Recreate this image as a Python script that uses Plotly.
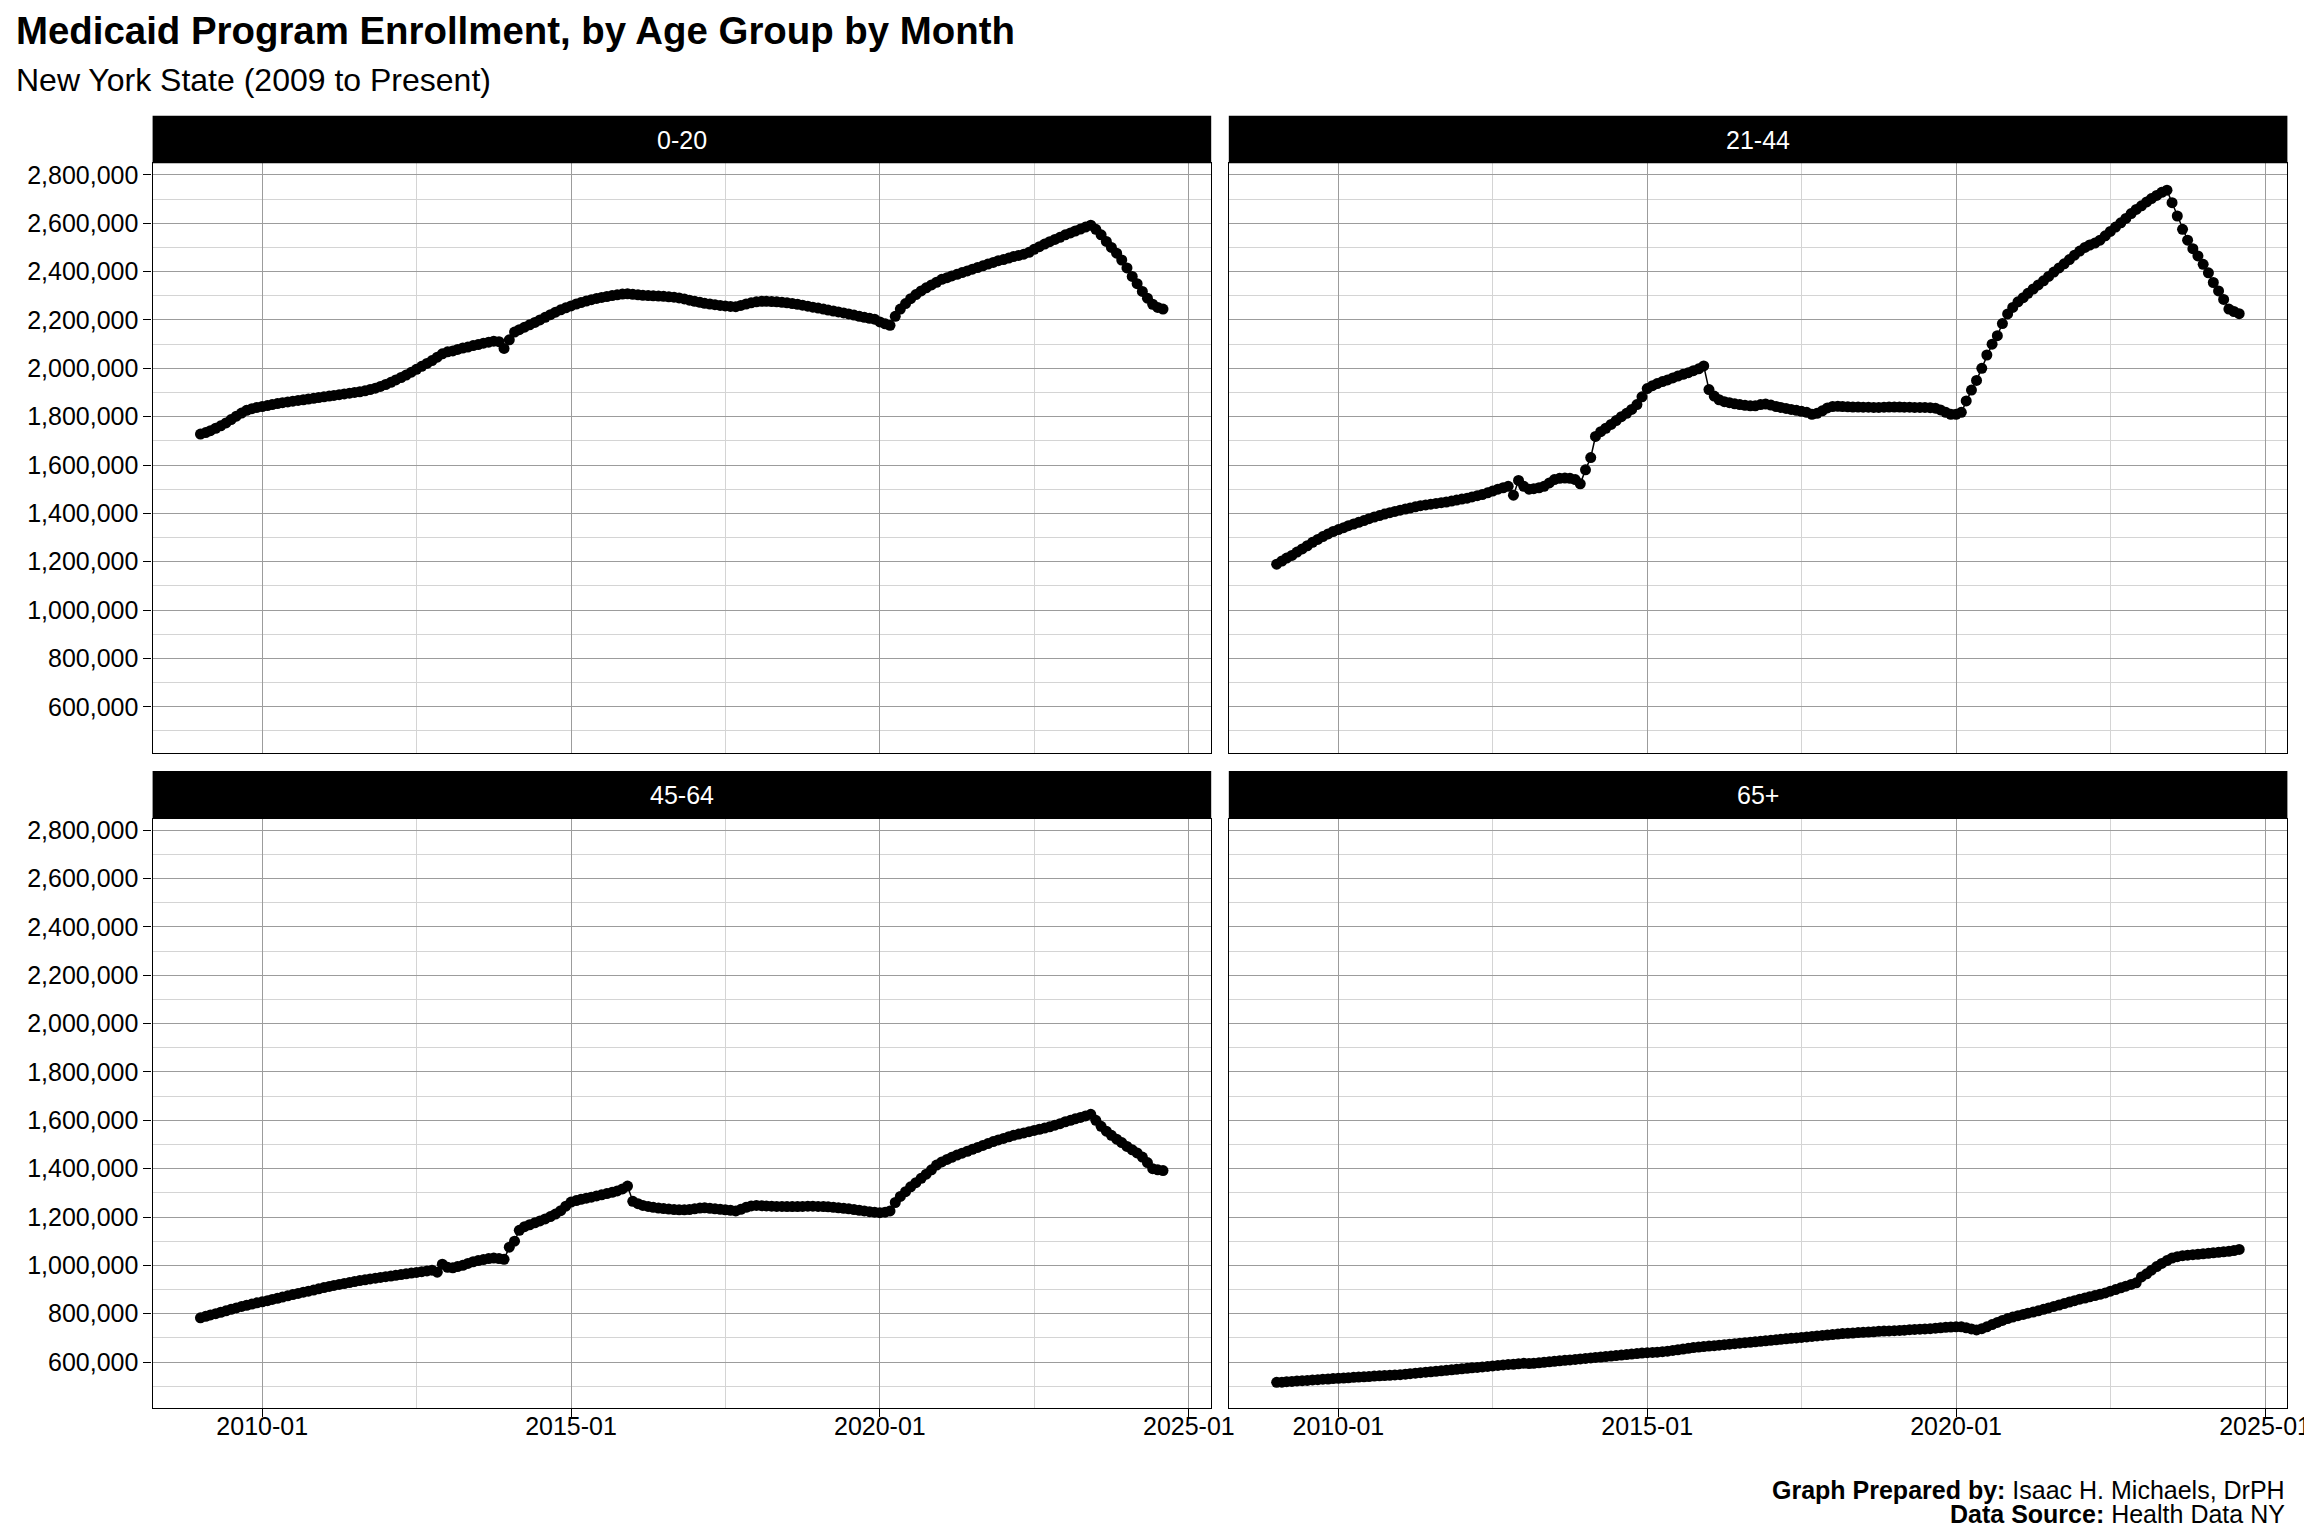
import plotly.graph_objects as go
import pandas as pd

# ---------------- text ----------------
TITLE = "Medicaid Program Enrollment, by Age Group by Month"
SUBTITLE = "New York State (2009 to Present)"
CAPTION_LINES = [("Graph Prepared by:", "Isaac H. Michaels, DrPH"),
                 ("Data Source:", "Health Data NY")]

# ---------------- data (monthly enrollment, thousands) ----------------
AGE_GROUPS = ["0-20", "21-44", "45-64", "65+"]
FIRST_MONTH = "2009-01-01"

ages_0_20 = [
    1728, 1734, 1742, 1752, 1762, 1774, 1788, 1802, 1815, 1826, 1833, 1838,
    1842, 1846, 1850, 1854, 1858, 1861, 1864, 1867, 1870, 1873, 1876, 1879,
    1882, 1885, 1888, 1891, 1894, 1897, 1900, 1903, 1907, 1912, 1918, 1925,
    1933, 1942, 1952, 1962, 1972, 1984, 1996, 2008, 2020, 2032, 2046, 2060,
    2068, 2072, 2078, 2084, 2088, 2094, 2098, 2104, 2108, 2112, 2110, 2082,
    2118, 2150, 2160, 2170, 2180, 2190, 2200, 2211, 2222, 2232, 2242, 2250,
    2258, 2266, 2272, 2278, 2284, 2289, 2293, 2297, 2301, 2304, 2307, 2308,
    2306, 2304, 2302, 2301, 2300, 2299, 2298, 2296, 2294, 2291, 2287, 2282,
    2277, 2273, 2269, 2266, 2263, 2260, 2258, 2256, 2255, 2260, 2266, 2271,
    2275, 2277, 2277, 2276, 2275, 2273, 2271, 2268, 2265, 2261, 2257, 2253,
    2249, 2245, 2241, 2237, 2233, 2229, 2225, 2220, 2215, 2211, 2207, 2203,
    2192, 2184, 2178, 2215, 2245, 2268, 2288, 2305, 2320, 2333, 2345, 2356,
    2368, 2375, 2382, 2389, 2396, 2403, 2410, 2417, 2424, 2431, 2438, 2445,
    2450, 2456, 2462, 2467, 2472, 2480, 2492, 2503, 2514, 2524, 2533, 2542,
    2552, 2560, 2568, 2576, 2584, 2592, 2575, 2552, 2525, 2500, 2476, 2448,
    2415, 2380, 2350, 2318, 2290, 2265, 2252, 2245,
]

ages_21_44 = [
    1190, 1203, 1215, 1226, 1240, 1253, 1266, 1280, 1292, 1304, 1315, 1325,
    1333, 1341, 1349, 1356, 1363, 1370, 1378, 1385, 1391, 1397, 1403, 1408,
    1413, 1418, 1422, 1427, 1432, 1435, 1438, 1441, 1444, 1447, 1451, 1455,
    1459, 1463, 1468, 1473, 1478, 1485, 1492, 1500, 1506, 1512, 1475, 1536,
    1512, 1500, 1502, 1506, 1512, 1526, 1540, 1545, 1546, 1545, 1540, 1522,
    1580, 1631, 1718, 1738, 1752, 1768, 1784, 1800, 1814, 1830, 1850, 1882,
    1916, 1928, 1937, 1945, 1952, 1960, 1968, 1975, 1982, 1990, 1998, 2010,
    1912, 1885, 1870, 1862, 1858, 1853, 1850, 1847, 1845, 1845, 1850, 1852,
    1848, 1842, 1838, 1834, 1830, 1826, 1822, 1818, 1810, 1814, 1824, 1836,
    1842, 1843, 1842, 1841, 1840, 1840, 1839, 1839, 1838, 1838, 1839, 1840,
    1840, 1840, 1839, 1839, 1838, 1838, 1838, 1837, 1835, 1828, 1818, 1810,
    1810, 1818, 1865, 1910, 1950, 2000, 2055, 2100, 2135, 2185, 2225, 2252,
    2275, 2292, 2310, 2328, 2345, 2362, 2380, 2398, 2415, 2432, 2450, 2468,
    2485, 2500, 2510, 2518, 2530, 2548, 2566, 2584, 2602, 2620, 2640, 2657,
    2672, 2688, 2702, 2715, 2728, 2737, 2685, 2630, 2575, 2530, 2495, 2465,
    2430, 2395, 2355, 2320, 2285, 2245, 2235, 2226,
]

ages_45_64 = [
    783, 789, 795, 800, 806, 812, 818, 824, 830, 835, 840, 845,
    849, 854, 859, 864, 869, 874, 879, 884, 889, 893, 898, 903,
    908, 913, 917, 921, 925, 929, 933, 937, 940, 944, 947, 950,
    953, 956, 959, 962, 965, 968, 971, 974, 977, 980, 972, 1005,
    992, 990, 995, 1000, 1008, 1015, 1020, 1024, 1028, 1030, 1028, 1025,
    1075, 1100, 1145, 1160, 1168, 1176, 1184, 1192, 1202, 1212, 1226, 1245,
    1262, 1268, 1273, 1278, 1282, 1287, 1292, 1297, 1302, 1308, 1316, 1328,
    1265, 1255, 1248, 1244, 1240, 1237, 1235, 1233, 1231, 1230, 1230, 1231,
    1234, 1237, 1238, 1236, 1234, 1232, 1230, 1228, 1225, 1232, 1240, 1246,
    1248, 1247, 1246, 1245, 1244, 1244, 1243, 1243, 1243, 1244, 1245, 1245,
    1244, 1243, 1242, 1240, 1238, 1236, 1234, 1231, 1228, 1225, 1222, 1220,
    1218, 1220, 1225, 1260, 1285, 1305, 1325, 1342, 1360, 1377, 1395, 1415,
    1428, 1438, 1447, 1456, 1464, 1472, 1480, 1488, 1496, 1504, 1512, 1519,
    1525, 1532, 1538, 1543, 1548, 1553, 1558, 1563, 1568, 1573, 1580, 1586,
    1594, 1600, 1606, 1612, 1618, 1625, 1600, 1575, 1555, 1538, 1522, 1508,
    1492, 1478, 1465, 1448, 1425, 1400, 1395, 1392,
]

ages_65_plus = [
    516, 517, 519, 520, 522, 523, 524, 526, 527, 529, 530, 532,
    533, 534, 535, 537, 538, 539, 540, 542, 543, 544, 545, 547,
    548, 550, 552, 554, 556, 558, 560, 562, 564, 566, 568, 570,
    572, 574, 576, 578, 580, 582, 584, 586, 588, 590, 591, 593,
    595, 594, 595, 597, 599, 601, 603, 605, 607, 609, 611, 613,
    615, 617, 619, 621, 623, 625, 627, 629, 631, 633, 635, 637,
    639, 640, 641, 643, 645, 648, 651, 654, 657, 660, 662, 664,
    666, 668, 670, 672, 674, 676, 678, 680, 682, 684, 686, 688,
    690, 692, 694, 696, 698, 700, 702, 704, 706, 708, 710, 712,
    714, 716, 718, 719, 720, 722, 723, 724, 725, 727, 728, 729,
    730, 731, 732, 734, 735, 736, 737, 738, 740, 742, 744, 745,
    746, 746, 742, 737, 733, 738, 746, 755, 764, 772, 780, 786,
    792, 797, 802, 807, 812, 818, 824, 830, 836, 842, 848, 854,
    860, 865, 870, 875, 880, 886, 893, 900, 907, 914, 921, 928,
    952, 965, 980, 995, 1008, 1020, 1030, 1036, 1040, 1042, 1044, 1046,
    1048, 1050, 1052, 1054, 1056, 1058, 1061, 1066,
]

SERIES = [ages_0_20, ages_21_44, ages_45_64, ages_65_plus]

X_TICK_VALUES = ["2010-01-01", "2015-01-01", "2020-01-01", "2025-01-01"]
X_TICK_LABELS = ["2010-01", "2015-01", "2020-01", "2025-01"]
X_MINOR_VALUES = ["2012-07-02", "2017-07-02", "2022-07-02"]
Y_TICK_VALUES = [600000, 800000, 1000000, 1200000, 1400000, 1600000,
                 1800000, 2000000, 2200000, 2400000, 2600000, 2800000]
Y_MINOR_VALUES = [500000, 700000, 900000, 1100000, 1300000, 1500000,
                  1700000, 1900000, 2100000, 2300000, 2500000, 2700000]

# ---------------- geometry (pixels) ----------------
W, H = 2304, 1536
X_RANGE = ["2008-03-24", "2025-05-13"]
Y_RANGE = [410000, 2848000]
PANEL_X = [(152.6, 1211.2), (1228.8, 2287.4)]
PANEL_Y = [(163.3, 752.7), (818.6, 1408.0)]   # top, bottom
STRIP_H = 47.6
FONT = "Liberation Sans, Arial, Helvetica, sans-serif"
MAJOR_GRID = "#9c9c9c"
MINOR_GRID = "#d4d4d4"


def px(xp):
    return xp / W


def py(yp):
    return 1 - yp / H


months = pd.date_range(FIRST_MONTH, periods=len(ages_0_20), freq="MS")

fig = go.Figure()
layout = {}
shapes = []
annotations = []

for k, (grp, vals) in enumerate(zip(AGE_GROUPS, SERIES)):
    row, col = divmod(k, 2)
    sfx = "" if k == 0 else str(k + 1)
    x0, x1 = PANEL_X[col]
    top, bot = PANEL_Y[row]

    fig.add_trace(go.Scatter(
        x=months, y=[v * 1000 for v in vals],
        mode="lines+markers",
        line=dict(color="black", width=1.5),
        marker=dict(size=11, color="black", line=dict(width=0)),
        xaxis="x" + sfx, yaxis="y" + sfx, showlegend=False,
        hovertemplate="%{x|%Y-%m}: %{y:,}<extra>" + grp + "</extra>",
    ))

    layout["xaxis" + sfx] = dict(
        domain=[px(x0), px(x1)], anchor="y" + sfx, type="date",
        range=X_RANGE, tickmode="array", tickvals=X_TICK_VALUES,
        ticktext=X_TICK_LABELS, showticklabels=(row == 1),
        ticks="outside" if row == 1 else "", ticklen=8, tickwidth=1.4,
        tickcolor="black", ticklabeloverflow="allow", ticklabelstandoff=-12,
        automargin=False,
        tickfont=dict(family=FONT, size=25, color="black"),
        showgrid=True, gridcolor=MAJOR_GRID, gridwidth=1,
        minor=dict(tickmode="array", tickvals=X_MINOR_VALUES, showgrid=True,
                   gridcolor=MINOR_GRID, gridwidth=1, ticks=""),
        showline=True, linecolor="black", linewidth=1.4, mirror=True,
        zeroline=False, fixedrange=True,
    )
    layout["yaxis" + sfx] = dict(
        domain=[py(bot), py(top)], anchor="x" + sfx,
        range=Y_RANGE, tickmode="array", tickvals=Y_TICK_VALUES,
        tickformat=",d", showticklabels=(col == 0),
        ticks="outside" if col == 0 else "", ticklen=8, tickwidth=1.4,
        tickcolor="black", automargin=False,
        tickfont=dict(family=FONT, size=25, color="black"),
        showgrid=True, gridcolor=MAJOR_GRID, gridwidth=1,
        minor=dict(tickmode="array", tickvals=Y_MINOR_VALUES, showgrid=True,
                   gridcolor=MINOR_GRID, gridwidth=1, ticks=""),
        showline=True, linecolor="black", linewidth=1.4, mirror=True,
        zeroline=False, fixedrange=True,
    )

    # facet strip
    shapes.append(dict(type="rect", xref="paper", yref="paper",
                       x0=px(x0), x1=px(x1), y0=py(top), y1=py(top - STRIP_H),
                       fillcolor="black", line=dict(width=0), layer="above"))
    annotations.append(dict(text=grp, xref="paper", yref="paper",
                            x=px((x0 + x1) / 2), y=py(top - STRIP_H / 2),
                            xanchor="center", yanchor="middle", showarrow=False,
                            font=dict(family=FONT, size=25, color="white")))

annotations.append(dict(text="<b>" + TITLE + "</b>", xref="paper", yref="paper",
                        x=px(14), y=py(31), xanchor="left", yanchor="middle",
                        showarrow=False,
                        font=dict(family=FONT, size=38.4, color="black")))
annotations.append(dict(text=SUBTITLE, xref="paper", yref="paper",
                        x=px(14), y=py(80), xanchor="left", yanchor="middle",
                        showarrow=False,
                        font=dict(family=FONT, size=32, color="black")))
for i, (label, value) in enumerate(CAPTION_LINES):
    annotations.append(dict(text="<b>" + label + "</b> " + value,
                            xref="paper", yref="paper",
                            x=px(2287.4), y=py(1490 + 24 * i),
                            xanchor="right", yanchor="middle", showarrow=False,
                            font=dict(family=FONT, size=25, color="black")))

fig.update_layout(
    width=W, height=H, autosize=False,
    margin=dict(l=0, r=0, t=0, b=0, pad=0, autoexpand=False),
    paper_bgcolor="white", plot_bgcolor="white",
    font=dict(family=FONT, color="black"),
    shapes=shapes, annotations=annotations, showlegend=False,
    **layout,
)

fig.write_html(
    "out.html",
    config={"displayModeBar": False, "responsive": False},
    post_script="document.documentElement.style.overflow='hidden';"
                "document.body.style.margin='0';"
                "document.body.style.overflow='hidden';"
                "var gd=document.getElementById('{plot_id}');"
                "gd.style.overflow='hidden';",
)
